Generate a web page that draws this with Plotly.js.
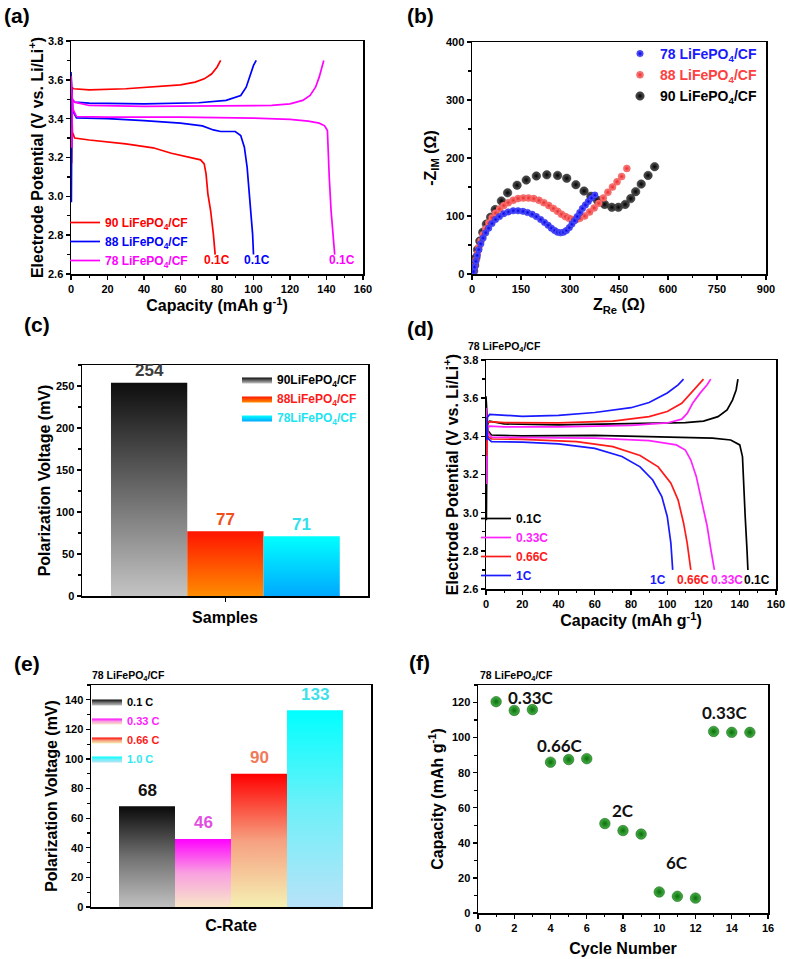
<!DOCTYPE html>
<html><head><meta charset="utf-8">
<script src="https://cdn.plot.ly/plotly-3.0.1.min.js"></script>
<style>body{margin:0;background:#fff}#chart{width:787px;height:959px}</style>
</head><body><div id="chart"></div>
<script>
// ---------- (a) charge/discharge at 0.1C for three samples ----------
const a90ChargeX = [0.3, 0.6, 1.5, 10, 30, 50, 60, 68, 73, 77, 80, 82];
const a90ChargeY = [3.17, 3.56, 3.554, 3.548, 3.554, 3.566, 3.574, 3.588, 3.605, 3.63, 3.665, 3.70];
const a90DisX = [0, 0.8, 2, 10, 30, 45, 55, 65, 71, 73, 74, 75, 76.5, 78, 79];
const a90DisY = [3.58, 3.33, 3.30, 3.29, 3.27, 3.25, 3.222, 3.20, 3.188, 3.167, 3.116, 3.013, 2.927, 2.807, 2.70];
const a88ChargeX = [0.2, 0.5, 2, 10, 40, 70, 85, 93, 96, 98, 100, 101.5];
const a88ChargeY = [2.97, 3.50, 3.485, 3.48, 3.476, 3.482, 3.494, 3.519, 3.562, 3.622, 3.674, 3.70];
const a88DisX = [0, 1, 3, 20, 40, 60, 72, 78, 82, 90, 93, 95, 96.5, 98, 99.5, 100];
const a88DisY = [3.64, 3.44, 3.404, 3.40, 3.39, 3.377, 3.363, 3.342, 3.334, 3.334, 3.313, 3.253, 3.15, 2.98, 2.807, 2.70];
const a78ChargeX = [0.4, 0.8, 2, 10, 40, 80, 110, 120, 127, 131, 134, 136, 137.5, 138.5];
const a78ChargeY = [3.25, 3.50, 3.485, 3.468, 3.463, 3.464, 3.468, 3.476, 3.494, 3.52, 3.562, 3.614, 3.665, 3.70];
const a78DisX = [0, 1, 3, 20, 60, 100, 120, 130, 136, 139, 140.5, 141, 141.5, 142.5, 143.5, 144.5];
const a78DisY = [3.62, 3.45, 3.411, 3.408, 3.408, 3.403, 3.396, 3.387, 3.377, 3.363, 3.339, 3.253, 3.10, 2.927, 2.807, 2.70];
const aNames = ['90 LiFePO<sub>4</sub>/CF', '88 LiFePO<sub>4</sub>/CF', '78 LiFePO<sub>4</sub>/CF'];
const aColors = ['#ff0000', '#0000ff', '#ff00ff'];
const aRateLabels = ['0.1C', '0.1C', '0.1C'];
const aRateLabelX = [80, 102, 148.5];
const aRateLabelY = [2.67, 2.67, 2.67];

// ---------- (b) Nyquist plots ----------
const b78Re = [5,8,12,16,21,27,34,42,51,61,72,84,97,111,126,141,156,170,184,197,210,222,233,243,253,262,271,280,289,298,306,314,322,330,338,347,356,366,376];
const b78Im = [4,12,22,32,42,52,62,71,79,87,94,99,104,107,109,109,108,106,103,99,94,89,84,79,75,72,71,72,75,80,86,92,99,106,113,119,125,131,136];
const b88Re = [5,8,12,16,21,27,34,42,51,61,72,84,97,111,126,141,157,173,189,205,220,235,249,262,274,286,297,308,319,330,345,360,374,388,402,416,430,444,458,474];
const b88Im = [4,13,24,35,46,57,68,78,88,97,105,112,118,123,127,130,131,131,130,127,123,118,113,108,103,99,96,94,94,96,100,107,114,122,131,141,150,159,168,182];
const b90Re = [5,8,12,17,24,33,44,57,71,90,109,138,166,197,229,262,290,318,343,364,384,406,428,448,469,486,501,518,539,559];
const b90Im = [5,15,28,42,57,72,86,98,111,126,140,153,162,169,171,170,165,154,143,134,127,120,115,115,120,130,142,155,170,185];
const bNames = ['78 LiFePO<sub>4</sub>/CF', '88 LiFePO<sub>4</sub>/CF', '90 LiFePO<sub>4</sub>/CF'];

// ---------- (c) polarization voltage of samples ----------
const cSamples = ['90LiFePO<sub>4</sub>/CF', '88LiFePO<sub>4</sub>/CF', '78LiFePO<sub>4</sub>/CF'];
const cValues = [254, 77, 71];
const cTopColors = ['#0d0d0d', '#ff1400', '#00ffff'];
const cBottomColors = ['#c4c4c4', '#ff8c00', '#00a8ff'];
const cTextColors = ['#000000', '#ff1a1a', '#20e4f0'];
const cLabelColors = ['#3c3c3c', '#f05020', '#30e0ec'];

// ---------- (d) 78 LiFePO4/CF at different rates ----------
const d01ChargeX = [0.2, 0.6, 2, 10, 40, 80, 110, 120, 128, 133, 136, 138, 139];
const d01ChargeY = [2.96, 3.46, 3.48, 3.465, 3.46, 3.465, 3.472, 3.48, 3.503, 3.538, 3.59, 3.643, 3.70];
const d01DisX = [0, 1, 3, 20, 60, 100, 125, 135, 140, 141.5, 142, 143, 144, 144.5];
const d01DisY = [3.61, 3.43, 3.407, 3.402, 3.405, 3.398, 3.391, 3.381, 3.355, 3.294, 3.154, 2.98, 2.805, 2.70];
const d033ChargeX = [0.3, 0.7, 2, 10, 40, 80, 100, 108, 111, 114, 118, 122, 124];
const d033ChargeY = [3.15, 3.44, 3.454, 3.45, 3.45, 3.457, 3.47, 3.49, 3.52, 3.573, 3.625, 3.67, 3.70];
const d033DisX = [0, 1, 3, 20, 60, 90, 105, 110, 113, 116, 119, 122, 124, 126];
const d033DisY = [3.55, 3.42, 3.395, 3.393, 3.391, 3.377, 3.355, 3.328, 3.276, 3.19, 3.066, 2.93, 2.81, 2.70];
const d066ChargeX = [0.3, 0.8, 2, 10, 40, 70, 90, 100, 108, 114, 118, 120];
const d066ChargeY = [3.3, 3.47, 3.477, 3.472, 3.47, 3.48, 3.503, 3.53, 3.573, 3.634, 3.68, 3.70];
const d066DisX = [0, 1, 3, 20, 50, 70, 85, 95, 102, 106, 109, 111, 113];
const d066DisY = [3.5, 3.40, 3.386, 3.384, 3.372, 3.346, 3.30, 3.24, 3.154, 3.066, 2.946, 2.84, 2.70];
const d1ChargeX = [0.3, 0.8, 2, 10, 20, 40, 60, 80, 90, 100, 106, 109];
const d1ChargeY = [3.38, 3.50, 3.515, 3.51, 3.505, 3.51, 3.525, 3.55, 3.577, 3.627, 3.67, 3.70];
const d1DisX = [0, 1, 3, 20, 40, 60, 75, 85, 92, 97, 100, 102, 103];
const d1DisY = [3.45, 3.39, 3.372, 3.37, 3.36, 3.337, 3.294, 3.24, 3.171, 3.084, 2.98, 2.84, 2.70];
const dRates = ['0.1C', '0.33C', '0.66C', '1C'];
const dColors = ['#000000', '#ff22ff', '#ff1a1a', '#1a1aff'];
const dRateLabelX = [149.5, 133, 114, 95];
const dRateLabelY = [2.645, 2.645, 2.645, 2.645];

// ---------- (e) polarization voltage vs C-rate ----------
const eRates = ['0.1 C', '0.33 C', '0.66 C', '1.0 C'];
const eValues = [68, 46, 90, 133];
const eTopColors = ['#0a0a0a', '#ff00ff', '#ff0000', '#00ffff'];
const eMidColors = ['#707070', '#f9a0e0', '#f6a080', '#70f0f8'];
const eBottomColors = ['#c0c0c0', '#f8e6c8', '#f5f0b4', '#b8e2f8'];
const eTextColors = ['#000000', '#ff20ff', '#ff1a1a', '#30e8f0'];
const eLabelColors = ['#111111', '#e050e0', '#f07a5a', '#40e0e8'];

// ---------- (f) rate capability ----------
const fCycle = [1, 2, 3, 4, 5, 6, 7, 8, 9, 10, 11, 12, 13, 14, 15];
const fCapacity = [120.5, 115.5, 116, 86, 87.5, 88, 51, 47, 45, 12, 9.5, 8.5, 103.5, 103, 103];
const fRateText = ['0.33C', '0.66C', '2C', '6C', '0.33C'];
const fRateTextX = [2.9, 4.5, 8.0, 11.0, 13.6];
const fRateTextY = [123, 95.5, 58.5, 29, 114.5];

// ================= figure building =================
const F = 'Liberation Sans, Arial, sans-serif';
const W = 787, H = 959;
const px = v => v / W, py = v => 1 - v / H;
const col = (t, c) => '<span style="color:' + c + '">' + t + '</span>';
const joinSeg = (a, b) => a.concat([null], b);

const traces = [];

// (a)
const aSets = [[a90ChargeX, a90ChargeY, a90DisX, a90DisY], [a88ChargeX, a88ChargeY, a88DisX, a88DisY], [a78ChargeX, a78ChargeY, a78DisX, a78DisY]];
aSets.forEach((s, i) => {
  traces.push({type: 'scatter', mode: 'lines', x: joinSeg(s[0], s[2]), y: joinSeg(s[1], s[3]),
    line: {color: aColors[i], width: 1.7}, name: col(aNames[i], aColors[i]), xaxis: 'x', yaxis: 'y', legend: 'legend', hoverinfo: 'skip'});
});

// (b)  [values, edge colour, centre colour, size]
const bSets = [[b78Re, b78Im, '#0000e6', '#6a6aff', 6.5], [b88Re, b88Im, '#e82828', '#ff8c8c', 7], [b90Re, b90Im, '#000000', '#5a5a5a', 8.5]];
const bText = ['#1a1aff', '#ff4040', '#000000'];
[2, 1, 0].forEach(i => {
  const s = bSets[i];
  traces.push({type: 'scatter', mode: 'markers', x: s[0], y: s[1], xaxis: 'x2', yaxis: 'y2', legend: 'legend2',
    legendrank: i + 1,
    marker: {size: s[4], color: s[3], gradient: {type: 'radial', color: s[2]}, line: {width: 0.4, color: s[2]}},
    name: col(bNames[i], bText[i]), hoverinfo: 'skip'});
});

// (c) gradient bars
cValues.forEach((v, i) => {
  traces.push({type: 'scatter', mode: 'lines', x: [i - 0.5, i + 0.5, i + 0.5, i - 0.5, i - 0.5], y: [0, 0, v, v, 0],
    fill: 'toself', fillcolor: cTopColors[i],
    fillgradient: {type: 'vertical', colorscale: [[0, cBottomColors[i]], [1, cTopColors[i]]]},
    line: {width: 0, color: cTopColors[i]}, xaxis: 'x3', yaxis: 'y3', legend: 'legend3',
    name: col(cSamples[i], cTextColors[i]), hoverinfo: 'skip'});
});

// (d)
const dSets = [[d01ChargeX, d01ChargeY, d01DisX, d01DisY], [d033ChargeX, d033ChargeY, d033DisX, d033DisY], [d066ChargeX, d066ChargeY, d066DisX, d066DisY], [d1ChargeX, d1ChargeY, d1DisX, d1DisY]];
dSets.forEach((s, i) => {
  traces.push({type: 'scatter', mode: 'lines', x: joinSeg(s[0], s[2]), y: joinSeg(s[1], s[3]),
    line: {color: dColors[i], width: 1.7}, name: col(dRates[i], dColors[i]), xaxis: 'x4', yaxis: 'y4', legend: 'legend4', hoverinfo: 'skip'});
});

// (e) gradient bars
eValues.forEach((v, i) => {
  traces.push({type: 'scatter', mode: 'lines', x: [i - 0.5, i + 0.5, i + 0.5, i - 0.5, i - 0.5], y: [0, 0, v, v, 0],
    fill: 'toself', fillcolor: eTopColors[i],
    fillgradient: {type: 'vertical', colorscale: [[0, eBottomColors[i]], [0.5, eMidColors[i]], [1, eTopColors[i]]]},
    line: {width: 0, color: eTopColors[i]}, xaxis: 'x5', yaxis: 'y5', legend: 'legend5',
    name: col(eRates[i], eTextColors[i]), hoverinfo: 'skip'});
});

// (f)
traces.push({type: 'scatter', mode: 'markers', x: fCycle, y: fCapacity, xaxis: 'x6', yaxis: 'y6', showlegend: false,
  marker: {size: 10.5, color: '#45b045', gradient: {type: 'radial', color: '#0b6e0b'}, line: {width: 0.5, color: '#075507'}},
  name: 'Capacity', hoverinfo: 'skip'});

// ---------- axes ----------
const tickFont = {family: F, size: 11, weight: 'bold', color: '#000'};
const titleFont = {family: F, size: 16, weight: 'bold', color: '#000'};
function axis(domain, range, dtick, minor, anchor, title, standoff, extra) {
  const o = {domain: domain, range: range, anchor: anchor, showline: true, mirror: true, linecolor: '#000', linewidth: 1.5,
    ticks: 'outside', ticklen: 4, tickwidth: 1.4, tickcolor: '#000', showgrid: false, zeroline: false,
    tickfont: tickFont, title: {text: title, font: titleFont, standoff: standoff}, fixedrange: true};
  if (dtick !== null) { o.dtick = dtick; o.tick0 = 0; }
  if (minor) o.minor = {ticks: 'outside', ticklen: 2.5, tickwidth: 1.2, tickcolor: '#000', dtick: minor, showgrid: false};
  return Object.assign(o, extra || {});
}

const layout = {
  width: W, height: H, margin: {l: 0, r: 0, t: 0, b: 0}, paper_bgcolor: '#fff', plot_bgcolor: '#fff',
  font: {family: F, color: '#000'}, hovermode: false,
  xaxis: axis([px(71), px(363)], [0, 160], 20, 10, 'y', 'Capacity (mAh g<sup>-1</sup>)', 5),
  yaxis: axis([py(274), py(41)], [2.6, 3.8], 0.2, 0.1, 'x', 'Electrode Potential (V vs. Li/Li<sup>+</sup>)', 0, {tickformat: '.1f'}),
  xaxis2: axis([px(472), px(766)], [0, 900], 150, 75, 'y2', 'Z<sub>Re</sub> (Ω)', 5),
  yaxis2: axis([py(274), py(42)], [0, 400], 100, 50, 'x2', '-Z<sub>IM</sub> (Ω)', 5),
  xaxis3: axis([px(82), px(368)], [-0.88, 2.87], null, null, 'y3', 'Samples', 9, {tickvals: [1], ticktext: ['']}),
  yaxis3: axis([py(596), py(365)], [0, 275], 50, 25, 'x3', 'Polarization Voltage (mV)', 1),
  xaxis4: axis([px(486), px(776)], [0, 160], 20, 10, 'y4', 'Capacity (mAh g<sup>-1</sup>)', 5),
  yaxis4: axis([py(589), py(360)], [2.6, 3.8], 0.2, 0.1, 'x4', 'Electrode Potential (V vs. Li/Li<sup>+</sup>)', 0, {tickformat: '.1f'}),
  xaxis5: axis([px(91), px(371)], [-1, 4], null, null, 'y5', 'C-Rate', 10, {tickvals: [], ticks: ''}),
  yaxis5: axis([py(907), py(685)], [0, 150], 20, 10, 'x5', 'Polarization Voltage (mV)', 3),
  xaxis6: axis([px(478), px(768)], [0, 16], 2, 1, 'y6', 'Cycle Number', 10),
  yaxis6: axis([py(913), py(685)], [0, 130], 20, 10, 'x6', 'Capacity (mAh g<sup>-1</sup>)', 4),
  legend: {x: px(65), y: py(208), xanchor: 'left', yanchor: 'top', bgcolor: 'rgba(0,0,0,0)', font: {family: F, size: 12, weight: 'bold'}, traceorder: 'normal'},
  legend2: {x: px(620), y: py(38), xanchor: 'left', yanchor: 'top', bgcolor: 'rgba(0,0,0,0)', font: {family: F, size: 14, weight: 'bold'}, traceorder: 'normal'},
  legend3: {x: px(237), y: py(365), xanchor: 'left', yanchor: 'top', bgcolor: 'rgba(0,0,0,0)', font: {family: F, size: 12, weight: 'bold'}, traceorder: 'normal'},
  legend4: {x: px(476), y: py(504), xanchor: 'left', yanchor: 'top', bgcolor: 'rgba(0,0,0,0)', font: {family: F, size: 12, weight: 'bold'}, traceorder: 'normal'},
  legend5: {x: px(87), y: py(687), xanchor: 'left', yanchor: 'top', bgcolor: 'rgba(0,0,0,0)', font: {family: F, size: 11, weight: 'bold'}, traceorder: 'normal'},
  annotations: []
};

const ann = layout.annotations;
// panel letters
[['(a)', 2, 16], ['(b)', 405, 16], ['(c)', 22, 325], ['(d)', 405, 328], ['(e)', 12, 663], ['(f)', 407, 662]].forEach(p => {
  ann.push({xref: 'paper', yref: 'paper', x: px(p[1]), y: py(p[2]), xanchor: 'left', yanchor: 'middle', showarrow: false,
    text: p[0], font: {family: F, size: 21, weight: 'bold', color: '#000'}});
});
// sample captions
[[466, 347], [90, 676], [478, 676]].forEach(p => {
  ann.push({xref: 'paper', yref: 'paper', x: px(p[0]), y: py(p[1]), xanchor: 'left', yanchor: 'middle', showarrow: false,
    text: '78 LiFePO<sub>4</sub>/CF', font: {family: F, size: 10.5, weight: 'bold', color: '#000'}});
});
// (a) rate labels
aRateLabels.forEach((t, i) => ann.push({xref: 'x', yref: 'y', x: aRateLabelX[i], y: aRateLabelY[i], text: t, showarrow: false,
  font: {family: F, size: 12, weight: 'bold', color: aColors[i]}}));
// (d) rate labels
dRates.forEach((t, i) => ann.push({xref: 'x4', yref: 'y4', x: dRateLabelX[i], y: dRateLabelY[i], text: t, showarrow: false,
  font: {family: F, size: 12, weight: 'bold', color: dColors[i]}}));
// (c) value labels
cValues.forEach((v, i) => ann.push({xref: 'x3', yref: 'y3', x: i, y: v, text: String(v), showarrow: false, yanchor: 'middle', yshift: 12,
  font: {family: F, size: 17, weight: 'bold', color: cLabelColors[i]}}));
// (e) value labels
eValues.forEach((v, i) => ann.push({xref: 'x5', yref: 'y5', x: i, y: v, text: String(v), showarrow: false, yanchor: 'middle', yshift: 16,
  font: {family: F, size: 17, weight: 'bold', color: eLabelColors[i]}}));
// (f) rate labels
fRateText.forEach((t, i) => ann.push({xref: 'x6', yref: 'y6', x: fRateTextX[i], y: fRateTextY[i], text: t, showarrow: false,
  font: {family: 'Lato, Carlito, sans-serif', size: 17, weight: 'bold', color: '#111'}}));

Plotly.newPlot('chart', traces, layout, {staticPlot: true, displayModeBar: false});
</script></body></html>
